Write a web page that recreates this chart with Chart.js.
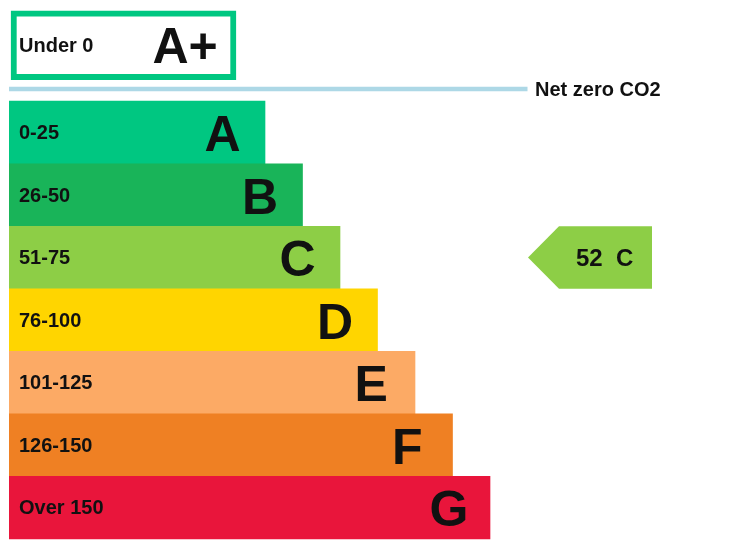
<!DOCTYPE html>
<html><head><meta charset="utf-8">
<script src="https://cdn.jsdelivr.net/npm/chart.js@4.4.0/dist/chart.umd.min.js"></script>
<style>html,body{margin:0;padding:0;background:#fff;overflow:hidden}#wrap{position:relative;width:737px;height:557px}</style>
</head><body><div id="wrap"><canvas id="c"></canvas></div>
<script>
// ---- data ----
const bandLetters = ['A','B','C','D','E','F','G'];
const bandRanges = ['0-25','26-50','51-75','76-100','101-125','126-150','Over 150'];
const bandLengths = [256, 293.5, 331, 368.5, 406, 443.5, 481];
const bandColors = ['#00c781','#19b459','#8dce46','#ffd500','#fcaa65','#ef8023','#e9153b'];
const topLetter = 'A+';
const topRange = 'Under 0';
const topSpan = [2, 227];
const topColor = '#00c781';
const netZeroLabel = 'Net zero CO2';
const netZeroSpan = [0, 518.5];
const netZeroColor = '#add8e6';
const currentScore = 52;
const currentBand = 'C';

// ---- layout (positions in scale units, not data) ----
const ROW_TOP = -1.395, ROW_NETZERO = -0.696;
const ARROW = {tip: 519, body: 550, end: 643, text: 567};
const FONT = "'Liberation Sans', Arial, Helvetica, sans-serif";

const labelPlugin = {
  id: 'epcLabels',
  afterDatasetsDraw(chart) {
    const ctx = chart.ctx, xs = chart.scales.x, ys = chart.scales.y;
    ctx.save();
    ctx.textAlign = 'left';
    ctx.textBaseline = 'alphabetic';
    const bandMeta = chart.getDatasetMeta(0);
    // arrow for current rating
    const bi = bandLetters.indexOf(currentBand);
    const cy = ys.getPixelForValue(bi);
    const hh = bandMeta.data[bi].height / 2;
    ctx.fillStyle = bandColors[bi];
    ctx.beginPath();
    ctx.moveTo(xs.getPixelForValue(ARROW.tip), cy);
    ctx.lineTo(xs.getPixelForValue(ARROW.body), cy - hh);
    ctx.lineTo(xs.getPixelForValue(ARROW.end), cy - hh);
    ctx.lineTo(xs.getPixelForValue(ARROW.end), cy + hh);
    ctx.lineTo(xs.getPixelForValue(ARROW.body), cy + hh);
    ctx.closePath();
    ctx.fill();
    ctx.fillStyle = '#111';
    ctx.font = 'bold 24px ' + FONT;
    ctx.fillText(currentScore + '  ' + currentBand, xs.getPixelForValue(ARROW.text), cy + 8);
    // bands
    bandMeta.data.forEach((bar, i) => {
      ctx.font = 'bold 20px ' + FONT;
      ctx.fillText(bandRanges[i], chart.chartArea.left + 10, bar.y + 6.5);
      ctx.font = 'bold 50px ' + FONT;
      ctx.fillText(bandLetters[i], bar.x - 60.5, bar.y + 18.5);
    });
    // top box
    const tb = chart.getDatasetMeta(1).data[0];
    ctx.font = 'bold 20px ' + FONT;
    ctx.fillText(topRange, chart.chartArea.left + 10, tb.y + 6.5);
    ctx.font = 'bold 50px ' + FONT;
    ctx.fillText(topLetter, tb.x - 83.5, tb.y + 18);
    // net zero label
    ctx.font = 'bold 20px ' + FONT;
    ctx.fillText(netZeroLabel, xs.getPixelForValue(netZeroSpan[1]) + 7.5, ys.getPixelForValue(ROW_NETZERO) + 7);
    ctx.restore();
  }
};

new Chart(document.getElementById('c'), {
  type: 'bar',
  data: {
    datasets: [
      {
        data: bandLengths.map((v, i) => ({x: v, y: i})),
        backgroundColor: bandColors,
        borderWidth: 0,
        barThickness: 62.6,
        grouped: false
      },
      {
        data: [{x: topSpan, y: ROW_TOP}],
        backgroundColor: '#ffffff',
        borderColor: topColor,
        borderWidth: 6,
        borderSkipped: false,
        barThickness: 69,
        grouped: false
      },
      {
        type: 'line',
        indexAxis: 'y',
        data: netZeroSpan.map(v => ({x: v, y: ROW_NETZERO})),
        borderColor: netZeroColor,
        borderWidth: 4.5,
        pointRadius: 0,
        fill: false
      }
    ]
  },
  options: {
    indexAxis: 'y',
    responsive: true,
    maintainAspectRatio: false,
    animation: false,
    events: [],
    layout: {padding: {left: 9, right: 0, top: 0, bottom: 0}},
    plugins: {legend: {display: false}, tooltip: {enabled: false}},
    scales: {
      x: {type: 'linear', display: false, offset: false, min: 0, max: 728},
      y: {type: 'linear', display: false, offset: false, reverse: true, min: -2.119, max: 6.789}
    }
  },
  plugins: [labelPlugin]
});
</script>
</body></html>
